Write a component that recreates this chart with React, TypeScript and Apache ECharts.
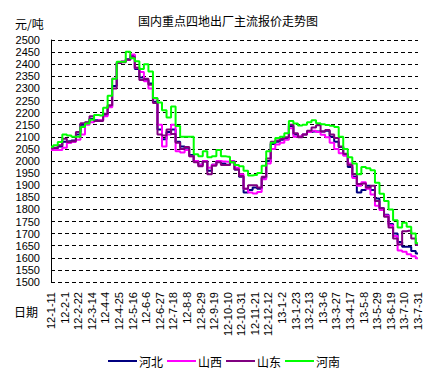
import React, { useEffect, useRef } from "react";
import * as echarts from "echarts";

const startYear = 2012;
const startMonth = 0;
const startDay = 11;
const weekCount = 82;

const categories: string[] = [];
for (let i = 0; i < weekCount; i++) {
  const d = new Date(startYear, startMonth, startDay + i * 7);
  categories.push(`${String(d.getFullYear()).slice(2)}-${d.getMonth() + 1}-${d.getDate()}`);
}

const seriesNames = ["河北", "山西", "山东", "河南"];
const seriesColors = ["#000080", "#FF00FF", "#800080", "#00FF00"];

const hebei = [
  2050, 2052, 2060, 2080, 2082, 2085, 2110, 2150, 2158, 2175,
  2168, 2168, 2190, 2225, 2310, 2405, 2410, 2420, 2435, 2380,
  2345, 2335, 2320, 2245, 2130, 2090, 2120, 2130, 2080, 2060,
  2055, 2025, 2000, 1985, 2000, 1960, 1985, 1998, 1990, 1985,
  1995, 1965, 1935, 1870, 1880, 1890, 1885, 1930, 2000, 2070,
  2080, 2088, 2095, 2145, 2110, 2100, 2110, 2120, 2122, 2122,
  2122, 2125, 2100, 2080, 2058, 2025, 1975, 1935, 1870, 1880,
  1898, 1880, 1845, 1805, 1778, 1740, 1700, 1665, 1646, 1646,
  1628, 1618,
];

const shanxi = [
  2045, 2045, 2045, 2055, 2074, 2078, 2088, 2110, 2150, 2160,
  2165, 2169, 2185, 2222, 2340, 2405, 2412, 2417, 2440, 2385,
  2368, 2330, 2300, 2258, 2150, 2060, 2110, 2150, 2040, 2035,
  2045, 2020, 2000, 1985, 2000, 1972, 1985, 2000, 1998, 1997,
  2000, 1972, 1945, 1885, 1870, 1866, 1872, 1925, 1990, 2050,
  2068, 2075, 2088, 2135, 2100, 2102, 2110, 2120, 2125, 2120,
  2108, 2098, 2075, 2050, 2032, 2022, 1990, 1930, 1898, 1912,
  1885, 1862, 1815, 1798, 1775, 1735, 1690, 1630, 1625, 1615,
  1606, 1598,
];

const shandong = [
  2052, 2055, 2065, 2092, 2078, 2082, 2120, 2156, 2160, 2185,
  2165, 2165, 2195, 2230, 2300, 2405, 2408, 2418, 2430, 2385,
  2335, 2340, 2315, 2240, 2110, 2105, 2130, 2112, 2075, 2050,
  2058, 2020, 1995, 1978, 1997, 1945, 1980, 1995, 1983, 1983,
  1997, 1965, 1938, 1885, 1900, 1900, 1890, 1935, 2010, 2080,
  2085, 2092, 2098, 2150, 2115, 2098, 2110, 2125, 2138, 2148,
  2122, 2128, 2110, 2095, 2060, 2030, 1983, 1945, 1905, 1907,
  1890, 1898, 1835, 1805, 1770, 1725, 1680, 1655, 1710, 1712,
  1680, 1653,
];

const henan = [
  2059, 2065, 2078, 2110, 2105, 2100, 2100, 2140, 2155, 2170,
  2190, 2188, 2220, 2270, 2340, 2410, 2410, 2451, 2425, 2412,
  2380, 2400, 2370, 2260, 2242, 2210, 2180, 2225, 2145, 2100,
  2100, 2100, 2028, 2020, 2040, 2015, 2020, 2045, 2020, 2018,
  1995, 1983, 1978, 1960, 1940, 1942, 1950, 1980, 2040, 2075,
  2095, 2100, 2115, 2165, 2155, 2147, 2150, 2160, 2168, 2156,
  2152, 2149, 2146, 2140, 2100, 2050, 2015, 1990, 1945, 1975,
  1970, 1962, 1910, 1865, 1835, 1800, 1755, 1725, 1745, 1728,
  1700, 1660,
];

const seriesData = [hebei, shanxi, shandong, henan];

const titleText = "国内重点四地出厂主流报价走势图";
const yUnitText = "元/吨";
const xUnitText = "日期";

const cjk = "'Noto Sans CJK SC', sans-serif";
const latin = "'Liberation Sans', Arial, sans-serif";

export default function App() {
  const ref = useRef<HTMLDivElement>(null);

  useEffect(() => {
    if (!ref.current) return;
    const chart = echarts.init(ref.current, null, { renderer: "svg" });
    chart.setOption({
      animation: false,
      backgroundColor: "#fff",
      title: {
        text: titleText,
        left: 133,
        top: 9,
        textStyle: { fontSize: 12, fontWeight: "normal", color: "#000", fontFamily: cjk },
      },
      graphic: [
        {
          type: "text",
          left: 15,
          top: 17,
          style: { text: yUnitText, fill: "#000", font: `12px ${cjk}` },
        },
        {
          type: "text",
          left: 14,
          top: 305,
          style: { text: xUnitText, fill: "#000", font: `12px ${cjk}` },
        },
      ],
      legend: {
        data: seriesNames,
        left: 103,
        top: 350,
        icon: "rect",
        itemWidth: 29,
        itemHeight: 2,
        itemGap: 4,
        textStyle: { fontSize: 12, color: "#000", fontFamily: cjk, padding: [0, 0, 0, -3] },
      },
      grid: { left: 51, right: 15, top: 40, bottom: 88, containLabel: false },
      xAxis: {
        type: "category",
        data: categories,
        boundaryGap: false,
        axisLine: { show: false },
        axisTick: { show: false },
        splitLine: { show: false },
        axisLabel: {
          interval: 2,
          rotate: 90,
          margin: 10,
          fontSize: 11,
          color: "#000",
          fontFamily: latin,
        },
      },
      yAxis: {
        type: "value",
        min: 1500,
        max: 2500,
        interval: 50,
        axisLine: { show: true, lineStyle: { color: "#000", width: 1 } },
        axisTick: { show: false },
        axisLabel: {
          fontSize: 11,
          color: "#000",
          margin: 11,
          fontFamily: latin,
          formatter: (v: number) => String(v),
        },
        splitLine: { show: true, lineStyle: { color: "#000", width: 1, type: [4, 3] } },
      },
      series: seriesNames.map((name, k) => ({
        name,
        type: "line",
        data: seriesData[k],
        step: "middle",
        symbol: "none",
        showSymbol: false,
        color: seriesColors[k],
        lineStyle: { color: seriesColors[k], width: 2 },
      })),
    });
    return () => chart.dispose();
  }, []);

  return (
    <div
      ref={ref}
      style={{ position: "fixed", left: 0, top: 0, width: 433, height: 370, background: "#fff" }}
    />
  );
}
